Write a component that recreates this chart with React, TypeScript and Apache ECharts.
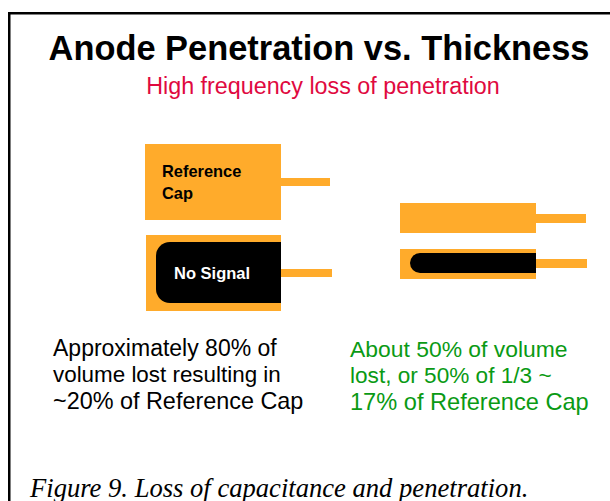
import React, { useEffect, useRef } from "react";
import * as echarts from "echarts";

const titleText = "Anode Penetration vs. Thickness";
const subtitleText = "High frequency loss of penetration";
const captionText = "Figure 9. Loss of capacitance and penetration.";
const leftNote = ["Approximately 80% of", "volume lost resulting in", "~20% of Reference Cap"];
const rightNote = ["About 50% of volume", "lost, or 50% of 1/3 ~", "17% of Reference Cap"];
const referenceLabel = ["Reference", "Cap"];
const noSignalLabel = "No Signal";

const ORANGE = "#FFAB2B";
const SANS = '"Liberation Sans", Arial, sans-serif';
const leftSizes = [23, 22.4, 23.4];
const rightSizes = [22.9, 22.6, 23.6];

const rect = (x: number, y: number, w: number, h: number, fill: string, r: any = 0) => ({
  type: "rect",
  shape: { x, y, width: w, height: h, r },
  style: { fill },
});
const text = (x: number, y: number, t: string, font: string, fill: string, align = "left") => ({
  type: "text",
  x,
  y,
  style: { text: t, font, fill, textAlign: align, textVerticalAlign: "middle" },
});

export default function App() {
  const ref = useRef<HTMLDivElement>(null);
  useEffect(() => {
    const chart = echarts.init(ref.current!, null, { renderer: "svg" });
    const elements: any[] = [
      rect(8, 12, 602, 2.5, "#000"),
      rect(8, 12, 2.5, 489, "#000"),
      text(319, 48, titleText, `bold 34.4px ${SANS}`, "#000", "center"),
      text(323, 86, subtitleText, `23.3px ${SANS}`, "#E0093F", "center"),

      rect(145, 144, 136, 76, ORANGE),
      rect(281, 178, 49, 8, ORANGE),
      text(162, 171, referenceLabel[0], `bold 16.4px ${SANS}`, "#000"),
      text(162, 193, referenceLabel[1], `bold 16.4px ${SANS}`, "#000"),

      rect(146, 235, 135, 76, ORANGE),
      rect(281, 269, 51, 8, ORANGE),
      rect(156, 242, 125, 61, "#000", [14, 0, 0, 14]),
      text(174, 273, noSignalLabel, `bold 16.5px ${SANS}`, "#fff"),

      rect(400, 203, 136, 30, ORANGE),
      rect(536, 214, 50, 9, ORANGE),
      rect(400, 249, 136, 30, ORANGE),
      rect(536, 259, 51, 9, ORANGE),
      rect(410, 253, 126, 20, "#000", [10, 0, 0, 10]),

      ...leftNote.map((t, i) => text(53, 348 + i * 26.5, t, `${leftSizes[i]}px ${SANS}`, "#000")),
      ...rightNote.map((t, i) => text(350, 349 + i * 26.5, t, `${rightSizes[i]}px ${SANS}`, "#0A9A14")),
      text(30, 487.5, captionText, `italic 26.6px "Liberation Serif", serif`, "#000"),
    ];
    chart.setOption({ animation: false, graphic: { elements } });
    return () => chart.dispose();
  }, []);
  return (
    <div
      ref={ref}
      style={{ position: "fixed", left: 0, top: 0, width: 610, height: 501, background: "#fff" }}
    />
  );
}
